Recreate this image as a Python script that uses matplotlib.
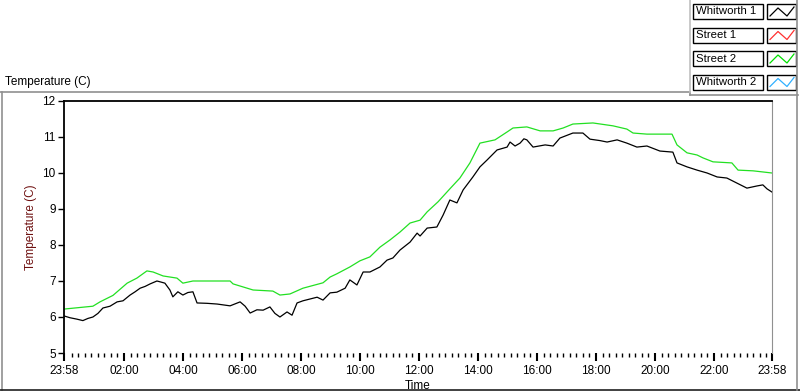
import matplotlib
matplotlib.use('Agg')
import matplotlib.pyplot as plt
from matplotlib.lines import Line2D
from matplotlib.patches import Rectangle

plt.rcParams['font.family'] = ['Liberation Sans', 'DejaVu Sans']

# hours elapsed since 23:58
street2_t = [0, 0.98, 1.22, 1.66, 2.14, 2.47, 2.81, 3.02, 3.36, 3.83, 4.03, 4.37, 5.63,
             5.73, 6.41, 7.08, 7.32, 7.66, 8.10, 8.78, 9.02, 9.25, 9.69, 10.03, 10.37,
             10.71, 11.05, 11.39, 11.73, 12.07, 12.31, 12.68, 13.08, 13.42, 13.76, 14.10,
             14.61, 15.02, 15.22, 15.69, 16.14, 16.58, 16.92, 17.25, 17.93, 18.61, 19.08,
             19.29, 19.76, 20.61, 20.78, 21.12, 21.46, 21.66, 22.0, 22.64, 22.85, 23.36, 24.0]
street2 = [6.22, 6.3, 6.42, 6.6, 6.94, 7.08, 7.28, 7.25, 7.14, 7.08, 6.94, 7.0, 7.0,
           6.92, 6.75, 6.72, 6.61, 6.64, 6.8, 6.95, 7.11, 7.2, 7.39, 7.56, 7.67,
           7.94, 8.14, 8.36, 8.61, 8.69, 8.92, 9.2, 9.56, 9.86, 10.28, 10.83,
           10.92, 11.14, 11.25, 11.28, 11.17, 11.17, 11.25, 11.36, 11.39, 11.31, 11.22,
           11.11, 11.08, 11.08, 10.78, 10.56, 10.5, 10.42, 10.31, 10.28, 10.08, 10.06, 10.0]

whitworth1_t = [0, 0.20, 0.44, 0.64, 0.81, 0.98, 1.15, 1.32, 1.56, 1.80, 2.0, 2.24, 2.41,
                2.58, 2.75, 2.92, 3.15, 3.29, 3.42, 3.59, 3.69, 3.86, 4.03, 4.20, 4.37,
                4.51, 4.85, 5.19, 5.63, 5.97, 6.14, 6.31, 6.54, 6.75, 6.98, 7.15, 7.32,
                7.56, 7.73, 7.90, 8.10, 8.34, 8.58, 8.78, 9.02, 9.25, 9.53, 9.69, 9.93,
                10.14, 10.37, 10.71, 10.95, 11.15, 11.39, 11.73, 11.97, 12.07, 12.31, 12.64,
                12.85, 13.08, 13.32, 13.53, 13.86, 14.10, 14.34, 14.68, 15.02, 15.12, 15.29,
                15.46, 15.59, 15.69, 15.90, 16.31, 16.58, 16.81, 17.25, 17.59, 17.83, 18.17,
                18.41, 18.75, 19.08, 19.42, 19.76, 20.20, 20.64, 20.78, 21.12, 21.46, 21.80,
                22.14, 22.47, 22.81, 23.15, 23.49, 23.69, 23.83, 24.0]
whitworth1 = [6.03, 5.98, 5.94, 5.9, 5.96, 6.0, 6.1, 6.25, 6.3, 6.42, 6.45, 6.61, 6.7,
              6.8, 6.85, 6.92, 7.0, 6.97, 6.94, 6.75, 6.56, 6.7, 6.61, 6.68, 6.7,
              6.39, 6.38, 6.36, 6.31, 6.42, 6.3, 6.11, 6.2, 6.19, 6.28, 6.1, 6.0,
              6.14, 6.05, 6.39, 6.45, 6.5, 6.55, 6.47, 6.67, 6.69, 6.8, 7.03, 6.89,
              7.25, 7.25, 7.39, 7.58, 7.64, 7.86, 8.08, 8.33, 8.25, 8.47, 8.5,
              8.83, 9.25, 9.17, 9.53, 9.89, 10.17, 10.36, 10.64, 10.72, 10.86, 10.75,
              10.83, 10.95, 10.92, 10.72, 10.78, 10.75, 10.97, 11.11, 11.11, 10.94, 10.9,
              10.86, 10.92, 10.83, 10.72, 10.75, 10.61, 10.58, 10.28, 10.17, 10.08, 10.0,
              9.89, 9.86, 9.72, 9.58, 9.64, 9.67, 9.56, 9.47]

xtick_pos = [0, 2.0333, 4.0333, 6.0333, 8.0333, 10.0333, 12.0333, 14.0333, 16.0333,
             18.0333, 20.0333, 22.0333, 24]
xtick_labels = ['23:58', '02:00', '04:00', '06:00', '08:00', '10:00', '12:00', '14:00',
                '16:00', '18:00', '20:00', '22:00', '23:58']
yticks = [5, 6, 7, 8, 9, 10, 11, 12]

legend_names = ['Whitworth 1', 'Street 1', 'Street 2', 'Whitworth 2']
legend_colors = ['black', '#ff3030', '#00e000', '#30b0ff']

W, H = 800, 392
fs = 8.5
fig = plt.figure(figsize=(8, 3.92), dpi=100)
ax = fig.add_axes([64 / W, 1 - 353 / H, 708 / W, 252 / H])

ax.plot(street2_t, street2, color='#22e022', lw=0.9)
ax.plot(whitworth1_t, whitworth1, color='black', lw=0.9)

ax.set_xlim(0, 24)
ax.set_ylim(5, 12)
ax.set_xticks(xtick_pos)
ax.set_xticklabels(xtick_labels, fontsize=fs)
minor = []
k = 2.0333 - 2 / 9
while k > 0.05:
    minor.append(k)
    k -= 2 / 9
k = 2.0333
while k < 24:
    if all(abs(k - m) > 0.05 for m in xtick_pos):
        minor.append(k)
    k += 2 / 9
ax.set_xticks(minor, minor=True)
ax.set_yticks(yticks)
ax.set_yticklabels([str(v) for v in yticks], fontsize=fs)
ax.tick_params(axis='x', which='major', length=6, width=1.5, pad=3)
ax.tick_params(axis='x', which='minor', length=3, width=1)
ax.tick_params(axis='y', length=4, width=1, pad=2)

ax.spines['bottom'].set_visible(False)
ax.spines['right'].set_color('#909090')
ax.spines['left'].set_linewidth(1.3)
ax.spines['top'].set_linewidth(1.3)

ax.set_xlabel('Time', fontsize=fs, labelpad=2)
ax.set_ylabel('Temperature (C)', fontsize=fs, color='#6e1010', labelpad=4)

fig.text(5 / W, 1 - 82 / H, 'Temperature (C)', fontsize=fs, va='center', ha='left')


def px(x, y):
    return x / W, 1 - y / H


# outer panel frame
for (x0, y0, x1, y1, c) in [(0, 92, 690, 92, '#909090'), (690, 92, 690, 95, '#909090'),
                            (690, 95, 798, 95, '#909090'), (1.5, 92, 1.5, 390, '#909090'),
                            (0, 390, 800, 390, '#202020'), (797, 0, 797, 390, '#909090'),
                            (690, 0, 690, 92, '#c0c0c0')]:
    a, b = px(x0, y0)
    c2, d = px(x1, y1)
    fig.add_artist(Line2D([a, c2], [b, d], color=c, lw=1.2))

# legend
for i, (name, col) in enumerate(zip(legend_names, legend_colors)):
    top = 4 + i * 23.5
    x0, y0 = px(693, top + 15)
    fig.add_artist(Rectangle((x0, y0), 70 / W, 15 / H, fill=False, ec='black', lw=1))
    fig.text(696 / W, 1 - (top + 7.5) / H, name, fontsize=8.2, va='center', ha='left')
    sx, sy = px(767, top + 15)
    fig.add_artist(Rectangle((sx, sy), 29 / W, 15 / H, fill=False, ec='black', lw=1))
    zx = [770, 778, 787, 794]
    zy = [top + 12, top + 4, top + 12, top + 3]
    fig.add_artist(Line2D([v / W for v in zx], [1 - v / H for v in zy], color=col, lw=0.9))

fig.savefig('out.png', dpi=100)
